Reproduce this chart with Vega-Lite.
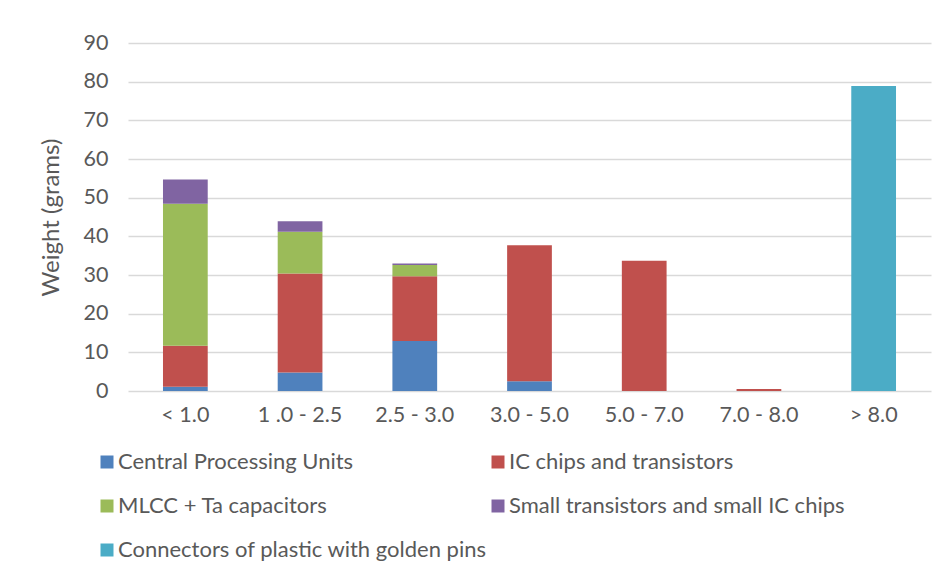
{
  "$schema": "https://vega.github.io/schema/vega-lite/v6.json",
  "width": 803,
  "height": 348,
  "autosize": {"type": "none"},
  "padding": {"left": 128, "top": 43, "right": 18, "bottom": 187},
  "background": "white",
  "config": {
    "font": "Lato",
    "view": {"stroke": null},
    "axis": {"labelColor": "#595959", "titleColor": "#595959"}
  },
  "data": {
    "values": [
      {"range": "< 1.0", "component": "Central Processing Units", "grams": 1.1},
      {"range": "< 1.0", "component": "IC chips and transistors", "grams": 10.6},
      {"range": "< 1.0", "component": "MLCC + Ta capacitors", "grams": 36.7},
      {"range": "< 1.0", "component": "Small transistors and small IC chips", "grams": 6.3},
      {"range": "1 .0 - 2.5", "component": "Central Processing Units", "grams": 4.8},
      {"range": "1 .0 - 2.5", "component": "IC chips and transistors", "grams": 25.6},
      {"range": "1 .0 - 2.5", "component": "MLCC + Ta capacitors", "grams": 10.8},
      {"range": "1 .0 - 2.5", "component": "Small transistors and small IC chips", "grams": 2.7},
      {"range": "2.5 - 3.0", "component": "Central Processing Units", "grams": 12.9},
      {"range": "2.5 - 3.0", "component": "IC chips and transistors", "grams": 16.8},
      {"range": "2.5 - 3.0", "component": "MLCC + Ta capacitors", "grams": 2.9},
      {"range": "2.5 - 3.0", "component": "Small transistors and small IC chips", "grams": 0.4},
      {"range": "3.0 - 5.0", "component": "Central Processing Units", "grams": 2.5},
      {"range": "3.0 - 5.0", "component": "IC chips and transistors", "grams": 35.2},
      {"range": "5.0 - 7.0", "component": "IC chips and transistors", "grams": 33.7},
      {"range": "7.0 - 8.0", "component": "IC chips and transistors", "grams": 0.5},
      {"range": "> 8.0", "component": "Connectors of plastic with golden pins", "grams": 78.9}
    ]
  },
  "mark": {"type": "bar"},
  "encoding": {
    "x": {
      "field": "range",
      "type": "nominal",
      "sort": null,
      "scale": {"paddingInner": 0.61, "paddingOuter": 0.305},
      "axis": {
        "title": null,
        "labelAngle": 0,
        "labelFontSize": 21.5,
        "labelPadding": 13,
        "ticks": false,
        "domain": false
      }
    },
    "y": {
      "field": "grams",
      "type": "quantitative",
      "stack": "zero",
      "scale": {"domain": [0, 90], "nice": false},
      "axis": {
        "title": "Weight (grams)",
        "titleFontSize": 24,
        "titleFontWeight": "normal",
        "titlePadding": 20,
        "values": [0, 10, 20, 30, 40, 50, 60, 70, 80, 90],
        "labelFontSize": 21.5,
        "labelPadding": 20,
        "ticks": false,
        "domain": false,
        "gridColor": "#d9d9d9",
        "gridWidth": 1.3
      }
    },
    "order": {"field": "component", "sort": "ascending"},
    "color": {
      "field": "component",
      "type": "nominal",
      "scale": {
        "domain": [
          "Central Processing Units",
          "IC chips and transistors",
          "MLCC + Ta capacitors",
          "Small transistors and small IC chips",
          "Connectors of plastic with golden pins"
        ],
        "range": ["#4F81BD", "#C0504D", "#9BBB59", "#8064A2", "#4BACC6"]
      },
      "legend": {
        "title": null,
        "orient": "none",
        "direction": "horizontal",
        "legendX": -32,
        "legendY": 408,
        "columns": 2,
        "columnPadding": 0,
        "rowPadding": 22,
        "symbolType": "square",
        "symbolSize": 169,
        "symbolStrokeWidth": 0,
        "labelOffset": 0,
        "labelFontSize": 22,
        "labelColor": "#595959",
        "labelLimit": 500
      }
    }
  }
}
